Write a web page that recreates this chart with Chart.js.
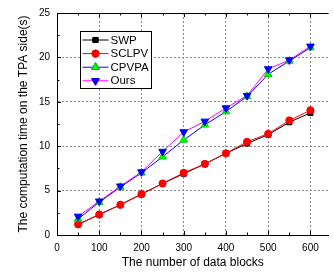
<!DOCTYPE html>
<html>
<head>
<meta charset="utf-8">
<script src="https://cdn.jsdelivr.net/npm/chart.js@4/dist/chart.umd.min.js"></script>
<style>
  html,body{margin:0;padding:0;background:#fff;}
  #wrap{width:334px;height:274px;position:relative;}
</style>
</head>
<body>
<div id="wrap"><canvas id="ch"></canvas></div>
<script>
/* ---- data ---- */
const blocks = [50,100,150,200,250,300,350,400,450,500,550,600];
const swp    = [1.2,2.3,3.4,4.6,5.8,6.9,8.0,9.2,10.3,11.3,12.7,13.75];
const sclpv  = [1.2,2.3,3.4,4.6,5.8,7.0,8.0,9.2,10.5,11.4,12.9,14.05];
const cpvpa  = [1.8,3.7,5.4,7.0,8.8,10.7,12.4,13.9,15.6,18.1,19.6,21.1];
const ours   = [2.1,3.8,5.5,7.1,9.4,11.6,12.8,14.3,15.7,18.7,19.7,21.25];
const names  = ['SWP','SCLPV','CPVPA','Ours'];

const FONT = 'Liberation Sans, Arial, sans-serif';
const xy = arr => arr.map((v,i)=>({x:blocks[i], y:v}));

const series = [
  {label:names[0], data:xy(swp),   borderColor:'#000', pointBackgroundColor:'#000', pointBorderColor:'#000', pointStyle:'rect', pointRadius:3.6, order:3},
  {label:names[1], data:xy(sclpv), borderColor:'#f00', pointBackgroundColor:'#f00', pointBorderColor:'#f00', pointStyle:'circle', pointRadius:3.6, order:2},
  {label:names[2], data:xy(cpvpa), borderColor:'#00f', pointBackgroundColor:'#0f0', pointBorderColor:'#0c0', pointStyle:'triangle', pointRadius:4.4, order:1},
  {label:names[3], data:xy(ours),  borderColor:'#f0f', pointBackgroundColor:'#00f', pointBorderColor:'#00f', pointStyle:'triangle', pointRotation:180, pointRadius:4.4, order:0}
];
series.forEach(s=>{ s.borderWidth=1; s.pointBorderWidth=1; s.fill=false; s.tension=0; });

/* inward tick marks, top frame line, and legend box */
const deco = {
  id:'deco',
  afterDraw(c){
    const ctx = c.ctx, a = c.chartArea, sx = c.scales.x, sy = c.scales.y;
    ctx.save();
    ctx.strokeStyle = '#000'; ctx.lineWidth = 1;
    ctx.beginPath();
    ctx.moveTo(a.left, a.top+0.5); ctx.lineTo(a.right, a.top+0.5);
    for(let v=0; v<=600; v+=50){
      const px = Math.round(sx.getPixelForValue(v))+0.5, len = v%100===0 ? 4 : 2.5;
      ctx.moveTo(px, a.bottom); ctx.lineTo(px, a.bottom-len);
      ctx.moveTo(px, a.top); ctx.lineTo(px, a.top+len);
    }
    for(let v=0; v<=25; v+=2.5){
      const py = Math.round(sy.getPixelForValue(v))+0.5, len = v%5===0 ? 4 : 2.5;
      ctx.moveTo(a.left, py); ctx.lineTo(a.left+len, py);
    }
    ctx.stroke();

    // legend
    const bx = 80.5, by = 31.5, bw = 71, bh = 57;
    ctx.fillStyle = '#fff'; ctx.fillRect(bx, by, bw, bh);
    ctx.strokeRect(bx, by, bw, bh);
    ctx.font = '11.5px ' + FONT; ctx.textBaseline = 'middle'; ctx.fillStyle = '#000';
    series.forEach((s,i)=>{
      const y = by + 8.5 + i*13.6;
      ctx.strokeStyle = s.borderColor; ctx.lineWidth = 1;
      ctx.beginPath(); ctx.moveTo(bx+2, y); ctx.lineTo(bx+28, y); ctx.stroke();
      Chart.helpers.drawPoint(ctx, {pointStyle:s.pointStyle, radius:s.pointRadius, rotation:s.pointRotation||0, borderWidth:1}, bx+15, y);
      ctx.fillStyle = s.pointBackgroundColor; ctx.strokeStyle = s.pointBorderColor;
      ctx.fill(); ctx.stroke();
      ctx.fillStyle = '#000';
      ctx.fillText(s.label, bx+30, y+0.5);
    });
    ctx.restore();
  }
};

new Chart(document.getElementById('ch'), {
  type:'line',
  data:{datasets:series},
  options:{
    responsive:true, maintainAspectRatio:false, animation:false,
    layout:{padding:{left:12, top:9, right:0, bottom:0}},
    plugins:{legend:{display:false}, tooltip:{enabled:false}},
    scales:{
      x:{type:'linear', min:0, max:643,
        afterFit(s){ s.height = 39; },
        ticks:{stepSize:50, includeBounds:false, autoSkip:false, maxRotation:0, minRotation:0, padding:7, color:'#000', font:{family:FONT, size:10},
          callback:v => v%100===0 ? v : ''},
        grid:{drawTicks:false, color:ctx => (ctx.tick && ctx.tick.value%100===0 && ctx.tick.value>0) ? '#8a8a8a' : 'rgba(0,0,0,0)'},
        border:{color:'#000', width:1, dash:[2,2]},
        title:{display:true, text:'The number of data blocks', color:'#000', font:{family:FONT, size:12}, padding:{top:4,bottom:4}}
      },
      y:{min:0, max:25,
        afterFit(s){ s.width = 45; },
        ticks:{stepSize:2.5, autoSkip:false, padding:7, color:'#000', font:{family:FONT, size:10},
          callback:v => v%5===0 ? v : ''},
        grid:{drawTicks:false, color:ctx => (ctx.tick && ctx.tick.value%5===0 && ctx.tick.value>0 && ctx.tick.value<25) ? '#8a8a8a' : 'rgba(0,0,0,0)'},
        border:{color:'#000', width:1, dash:[2,2]},
        title:{display:true, text:'The computation time on the TPA side(s)', color:'#000', font:{family:FONT, size:12}, padding:{top:4,bottom:4}}
      }
    }
  },
  plugins:[deco]
});
</script>
</body>
</html>
